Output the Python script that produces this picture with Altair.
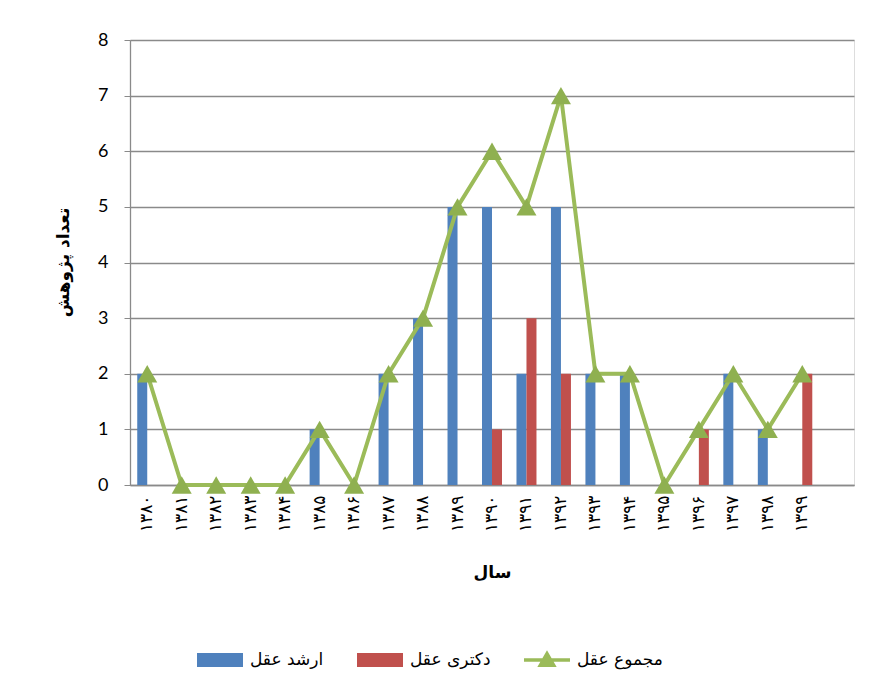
import altair as alt
import pandas as pd

years = ["۱۳۸۰", "۱۳۸۱", "۱۳۸۲", "۱۳۸۳", "۱۳۸۴", "۱۳۸۵", "۱۳۸۶", "۱۳۸۷", "۱۳۸۸", "۱۳۸۹",
         "۱۳۹۰", "۱۳۹۱", "۱۳۹۲", "۱۳۹۳", "۱۳۹۴", "۱۳۹۵", "۱۳۹۶", "۱۳۹۷", "۱۳۹۸", "۱۳۹۹"]
arshad = [2, 0, 0, 0, 0, 1, 0, 2, 3, 5, 5, 2, 5, 2, 2, 0, 0, 2, 1, 0]
doctori = [0, 0, 0, 0, 0, 0, 0, 0, 0, 0, 1, 3, 2, 0, 0, 0, 1, 0, 0, 2]
total = [2, 0, 0, 0, 0, 1, 0, 2, 3, 5, 6, 5, 7, 2, 2, 0, 1, 2, 1, 2]
series_names = ["ارشد عقل", "دکتری عقل", "مجموع عقل"]
colors = ["#4F81BD", "#C0504D", "#9BBB59"]
y_ticks = [0, 1, 2, 3, 4, 5, 6, 7, 8]
PAD = "pad"

bars_df = pd.DataFrame({
    "year": years * 2,
    "series": [series_names[0]] * len(years) + [series_names[1]] * len(years),
    "value": arshad + doctori,
})
line_df = pd.DataFrame({"year": years, "series": [series_names[2]] * len(years), "value": total})

GRID = "#8a8a8a"
RECT_PATH = "M-1,-0.3L1,-0.3L1,0.3L-1,0.3Z"
LINE_PATH = "M-1,-0.08L1,-0.08L1,0.08L-1,0.08Z M0,-0.42L0.42,0.3L-0.42,0.3Z"

x_scale = alt.Scale(type="band", domain=years + [PAD], paddingInner=0.42, paddingOuter=0.21)
y_scale = alt.Scale(domain=[0, 8], nice=False)
color_scale = alt.Scale(domain=series_names, range=colors)

shape_expr = "datum.value === '%s' ? '%s' : '%s'" % (series_names[2], LINE_PATH, RECT_PATH)

legend = alt.Legend(
    orient="none", legendX=67, legendY=597, direction="horizontal", title=None,
    symbolSize=2116, symbolType=alt.ExprRef(expr=shape_expr), labelFont="DejaVu Sans",
    labelFontSize=17, labelColor="#000000", labelOffset=7, columnPadding=33,
    symbolStrokeWidth=0, symbolOpacity=1,
)

x_axis = alt.Axis(
    labelAngle=270, labelFont="DejaVu Sans", labelFontSize=17, labelColor="#000000",
    labelPadding=10, ticks=False, domainColor=GRID, domainWidth=1.3, grid=False,
    labelExpr="datum.value == 'pad' ? '' : datum.value",
    title="سال", titleFont="DejaVu Sans", titleFontSize=17, titleFontWeight="bold",
    titleColor="#000000", titleY=79, titleX=362,
)
y_axis = alt.Axis(
    values=y_ticks, format="d", grid=True, gridColor=GRID, gridWidth=1.3, domainColor=GRID, domainWidth=1.3,
    tickColor=GRID, tickSize=6, labelFont="Lato", labelFontSize=18, labelColor="#000000",
    labelPadding=16, title="تعداد پژوهش", titleFont="DejaVu Sans", titleFontSize=17,
    titleFontWeight="bold", titleColor="#000000", titleX=-58, titleY=222, titleAngle=270,
)

bars = alt.Chart(bars_df).mark_bar().encode(
    x=alt.X("year:N", scale=x_scale, axis=x_axis, sort=None),
    xOffset=alt.XOffset("series:N", scale=alt.Scale(domain=series_names[:2], paddingInner=0, paddingOuter=0)),
    y=alt.Y("value:Q", scale=y_scale, axis=y_axis),
    color=alt.Color("series:N", scale=color_scale, legend=legend),
)

line = alt.Chart(line_df).mark_line(strokeWidth=4).encode(
    x=alt.X("year:N", scale=x_scale, sort=None),
    y=alt.Y("value:Q", scale=y_scale),
    color=alt.Color("series:N", scale=color_scale, legend=legend),
)

points = alt.Chart(line_df).mark_point(shape="triangle-up", size=400, filled=True, opacity=1, color="#8FB050").encode(
    x=alt.X("year:N", scale=x_scale, sort=None),
    y=alt.Y("value:Q", scale=y_scale),
)

chart = alt.layer(bars, line, points).properties(
    width=724, height=445,
    autosize=alt.AutoSizeParams(type="none"),
    padding={"left": 122, "top": 32, "right": 12, "bottom": 193},
).configure_view(stroke=None).configure(background="white")

chart.save("out.html", embed_options={"renderer": "svg", "actions": False})
